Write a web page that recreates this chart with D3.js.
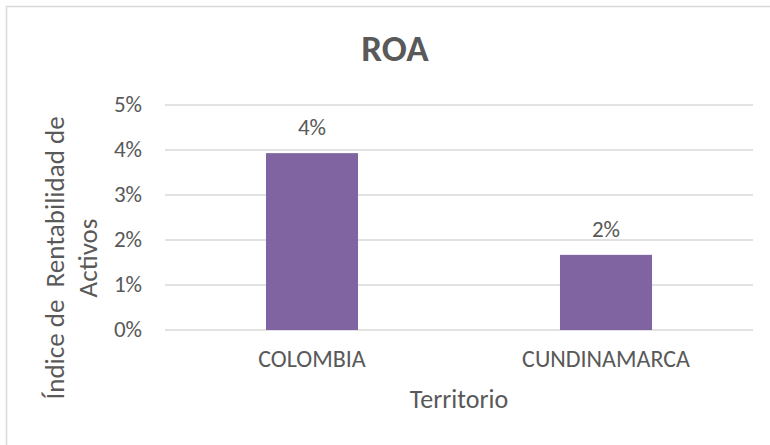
<!DOCTYPE html>
<html>
<head>
<meta charset="utf-8">
<script src="https://cdn.jsdelivr.net/npm/d3@7"></script>
<style>
body { margin: 0; background: #fff; }
svg text { font-family: Carlito, Calibri, Lato, sans-serif; fill: #595959; white-space: pre; }
</style>
</head>
<body>
<div id="chart"></div>
<script>
var categories = ["COLOMBIA", "CUNDINAMARCA"];
var roa_values = [0.0393, 0.0167];
var y_ticks = [0, 0.01, 0.02, 0.03, 0.04, 0.05];
var title_text = "ROA";
var x_title = "Territorio";
var y_title = ["Índice de  Rentabilidad de", "Activos"];

var svg_hw = {width: 770, height: 445};
var plot = {left: 165, right: 753, top: 105, bottom: 330};
var BAR_COLOR = "#8064A2";
var GRID_COLOR = "#d9d9d9";

var svg = d3.select("#chart")
    .append("svg")
    .attr("width", svg_hw.width)
    .attr("height", svg_hw.height);

// chart border
svg.append("rect")
    .attr("x", 6.5).attr("y", 6.5)
    .attr("width", svg_hw.width).attr("height", svg_hw.height)
    .attr("fill", "none")
    .attr("stroke", GRID_COLOR)
    .attr("stroke-width", 1.5);

var x = d3.scaleBand()
    .domain(categories)
    .range([plot.left, plot.right])
    .paddingInner(0.687)
    .paddingOuter(0.3435);

var y = d3.scaleLinear()
    .domain([0, 0.05])
    .range([plot.bottom, plot.top]);

// gridlines
svg.selectAll("line.grid")
    .data(y_ticks)
    .enter()
    .append("line")
    .attr("class", "grid")
    .attr("x1", plot.left)
    .attr("x2", plot.right)
    .attr("y1", d => y(d))
    .attr("y2", d => y(d))
    .attr("stroke", GRID_COLOR)
    .attr("stroke-width", 1.5);

// y tick labels
svg.selectAll("text.ytick")
    .data(y_ticks)
    .enter()
    .append("text")
    .attr("class", "ytick")
    .attr("x", 142)
    .attr("y", d => y(d) + 7)
    .attr("text-anchor", "end")
    .style("font-size", "23px")
    .text(d3.format(".0%"));

// bars
svg.selectAll("rect.bar")
    .data(roa_values)
    .enter()
    .append("rect")
    .attr("class", "bar")
    .attr("x", (d, i) => x(categories[i]))
    .attr("y", d => y(d))
    .attr("width", x.bandwidth())
    .attr("height", d => y(0) - y(d))
    .attr("fill", BAR_COLOR);

// data labels
svg.selectAll("text.dlabel")
    .data(roa_values)
    .enter()
    .append("text")
    .attr("class", "dlabel")
    .attr("x", (d, i) => x(categories[i]) + x.bandwidth() / 2)
    .attr("y", d => y(d) - 18)
    .attr("text-anchor", "middle")
    .style("font-size", "23px")
    .text(d3.format(".0%"));

// x category labels
svg.selectAll("text.xtick")
    .data(categories)
    .enter()
    .append("text")
    .attr("class", "xtick")
    .attr("x", d => x(d) + x.bandwidth() / 2)
    .attr("y", 367)
    .attr("text-anchor", "middle")
    .style("font-size", "24px")
    .text(d => d);

// title
svg.append("text")
    .attr("x", 395)
    .attr("y", 61)
    .attr("text-anchor", "middle")
    .style("font-size", "37px")
    .style("font-weight", "bold")
    .text(title_text);

// x axis title
svg.append("text")
    .attr("x", (plot.left + plot.right) / 2)
    .attr("y", 408)
    .attr("text-anchor", "middle")
    .style("font-size", "26px")
    .text(x_title);

// y axis title, two lines
svg.selectAll("text.ytitle")
    .data(y_title)
    .enter()
    .append("text")
    .attr("class", "ytitle")
    .attr("transform", (d, i) => "translate(" + (64 + i * 33) + ",258) rotate(-90)")
    .attr("text-anchor", "middle")
    .style("font-size", "27px")
    .text(d => d);
</script>
</body>
</html>
